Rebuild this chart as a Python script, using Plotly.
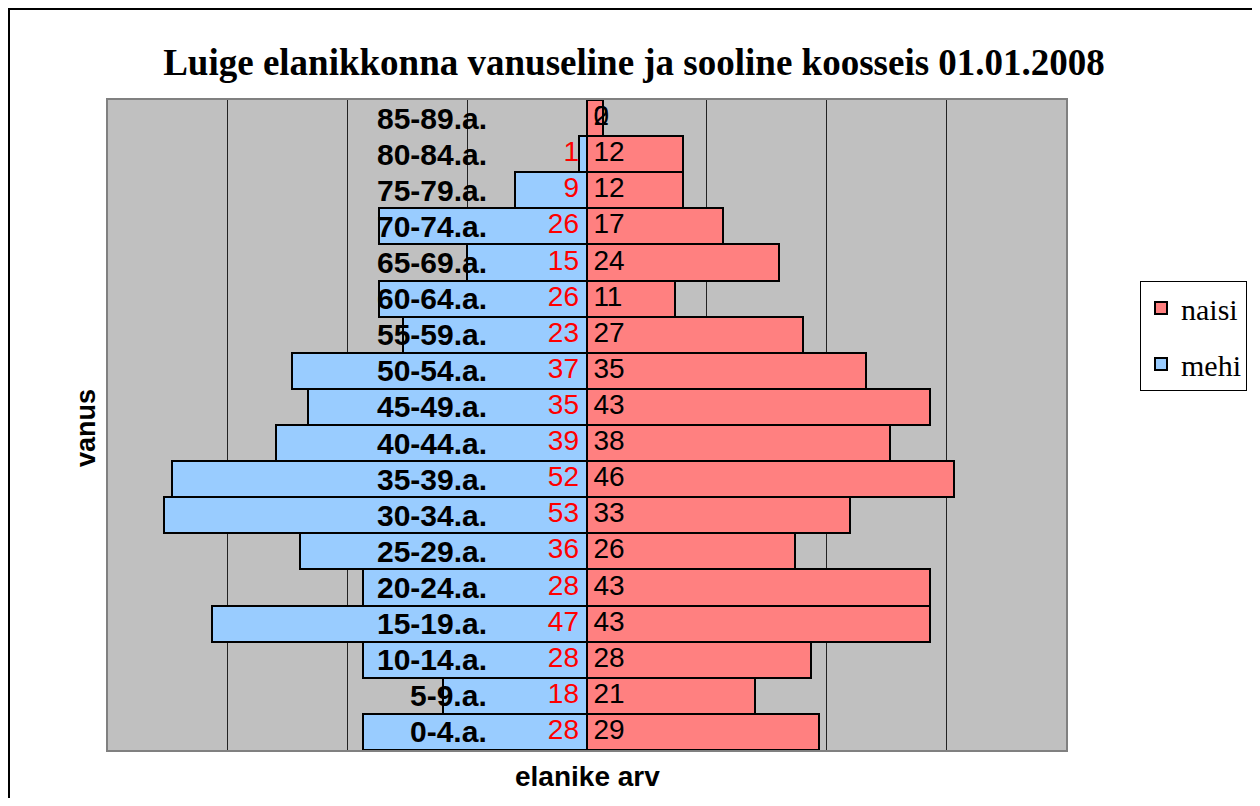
import plotly.graph_objects as go

categories = ["0-4.a.", "5-9.a.", "10-14.a.", "15-19.a.", "20-24.a.", "25-29.a.",
              "30-34.a.", "35-39.a.", "40-44.a.", "45-49.a.", "50-54.a.", "55-59.a.",
              "60-64.a.", "65-69.a.", "70-74.a.", "75-79.a.", "80-84.a.", "85-89.a."]
mehi = [28, 18, 28, 47, 28, 36, 53, 52, 39, 35, 37, 23, 26, 15, 26, 9, 1, 0]
naisi = [29, 21, 28, 43, 43, 26, 33, 46, 38, 43, 35, 27, 11, 24, 17, 12, 12, 2]

title_text = "Luige elanikkonna vanuseline ja sooline koosseis 01.01.2008"
x_title = "elanike arv"
y_title = "vanus"

SANS = "Liberation Sans, Arial, sans-serif"
SERIF = "Liberation Serif, Times New Roman, serif"

fig = go.Figure()

fig.add_trace(go.Bar(
    y=categories, x=naisi, orientation="h", name="naisi", legendgroup="n",
    marker=dict(color="#FF8080", line=dict(color="black", width=2)),
    hovertemplate="%{y}: %{x}<extra>naisi</extra>",
))
fig.add_trace(go.Bar(
    y=categories, x=[-v for v in mehi], orientation="h", name="mehi", legendgroup="m",
    marker=dict(color="#99CCFF", line=dict(color="black", width=2)),
    customdata=mehi, hovertemplate="%{y}: %{customdata}<extra>mehi</extra>",
))

# value labels
m_cats = [c for c, v in zip(categories, mehi) if v > 0]
m_vals = [v for v in mehi if v > 0]
fig.add_trace(go.Scatter(
    y=m_cats, x=[-1.0] * len(m_cats), mode="text", text=[str(v) for v in m_vals],
    textposition="middle left", textfont=dict(family=SANS, size=28, color="red"),
    showlegend=False, hoverinfo="skip",
))
z_cats = [c for c, v in zip(categories, mehi) if v == 0]
fig.add_trace(go.Scatter(
    y=z_cats, x=[0.8] * len(z_cats), mode="text", text=["0"] * len(z_cats),
    textposition="middle right", textfont=dict(family=SANS, size=28, color="black"),
    showlegend=False, hoverinfo="skip",
))
fig.add_trace(go.Scatter(
    y=categories, x=[0.8] * len(categories), mode="text", text=[str(v) for v in naisi],
    textposition="middle right", textfont=dict(family=SANS, size=28, color="black"),
    showlegend=False, hoverinfo="skip",
))

annotations = []
for c in categories:
    annotations.append(dict(
        x=-12.3, y=c, xref="x", yref="y", text=c, showarrow=False,
        xanchor="right", yanchor="middle",
        font=dict(family=SANS, size=30, color="black", weight="bold"),
    ))
annotations.append(dict(
    x=0.5, y=-26 / 650, xref="paper", yref="paper", text=x_title, showarrow=False,
    xanchor="center", yanchor="middle",
    font=dict(family=SANS, size=28, color="black", weight="bold"),
))
annotations.append(dict(
    x=(86 - 108) / 958, y=(750 - 428) / 650, xref="paper", yref="paper", text=y_title,
    showarrow=False, xanchor="center", yanchor="middle", textangle=-90,
    font=dict(family=SANS, size=27, color="black", weight="bold"),
))

fig.update_layout(
    width=1252, height=790,
    margin=dict(l=100, r=194, t=92, b=48),
    paper_bgcolor="white", plot_bgcolor="#C0C0C0",
    barmode="overlay", bargap=0,
    title=dict(text=title_text, x=(634 - 108) / 958, xref="paper", xanchor="center",
               y=1 - 54 / 790, yref="container", yanchor="middle",
               font=dict(family=SERIF, size=37, color="black", weight="bold")),
    xaxis=dict(range=[-60, 60], dtick=15, tick0=0, showticklabels=False,
               showgrid=True, gridcolor="#222222", gridwidth=1, zeroline=False,
               showline=True, mirror=True, linecolor="#808080", linewidth=2,
               ticks="", fixedrange=True),
    yaxis=dict(categoryorder="array", categoryarray=categories, range=[-0.5, 17.5],
               showticklabels=False, showgrid=False, zeroline=False,
               showline=True, mirror=True, linecolor="#808080", linewidth=2, ticks=""),
    legend=dict(x=(1140 - 108) / 958, y=(750 - 281) / 650, xanchor="left", yanchor="top",
                traceorder="grouped", tracegroupgap=14,
                bordercolor="black", borderwidth=1, bgcolor="white",
                font=dict(family=SERIF, size=30, color="black"), itemwidth=30),
    annotations=annotations,
    shapes=[dict(type="rect", xref="paper", yref="paper",
                 x0=(9 - 108) / 958, x1=(1255 - 108) / 958,
                 y0=(750 - 830) / 650, y1=(750 - 9) / 650,
                 line=dict(color="black", width=2), layer="above")],
    showlegend=True,
)

fig.write_html("out.html")
